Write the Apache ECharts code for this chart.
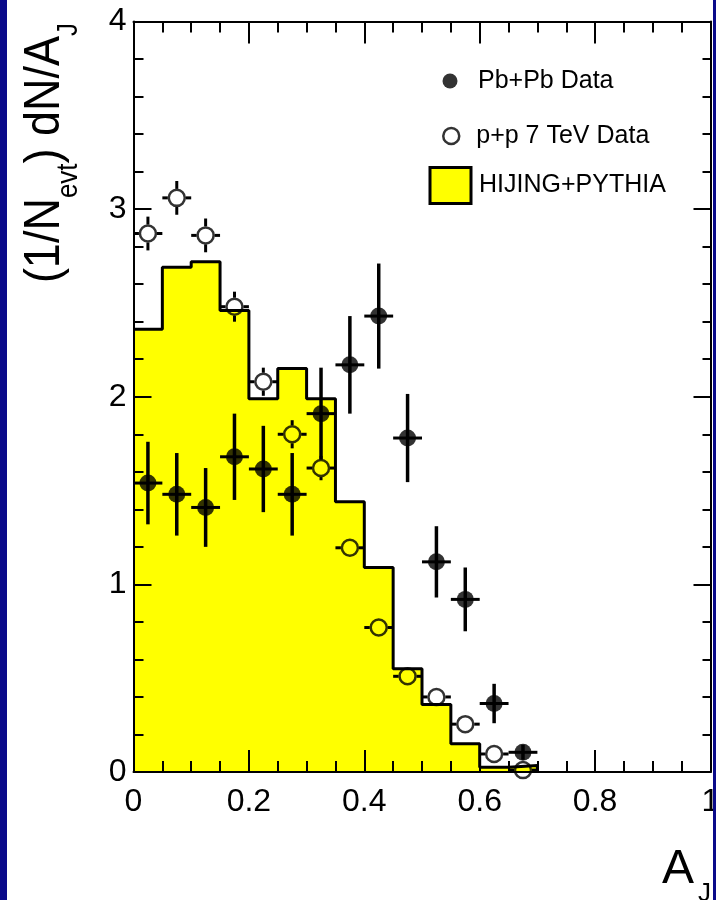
<!DOCTYPE html>
<html>
<head>
<meta charset="utf-8">
<script src="https://cdn.jsdelivr.net/npm/echarts@6/dist/echarts.min.js"></script>
<style>
  html, body { margin: 0; padding: 0; background: #fff; }
  #chart { width: 716px; height: 900px; }
</style>
</head>
<body>
<div id="chart"></div>
<script>
// Dijet asymmetry A_J distributions
const binEdges = [0, 0.05, 0.1, 0.15, 0.2, 0.25, 0.3, 0.35, 0.4, 0.45, 0.5, 0.55, 0.6, 0.65, 0.7];
const binCenters = [0.025, 0.075, 0.125, 0.175, 0.225, 0.275, 0.325, 0.375, 0.425, 0.475, 0.525, 0.575, 0.625, 0.675];
const binHalfWidth = 0.025;

// HIJING+PYTHIA histogram, one value per bin
const hijingValues = [2.36, 2.69, 2.72, 2.46, 1.99, 2.15, 1.99, 1.44, 1.09, 0.55, 0.36, 0.15, 0.025, 0.035];

// Pb+Pb data with statistical errors
const pbpbValues = [1.54, 1.48, 1.41, 1.68, 1.615, 1.48, 1.91, 2.17, 2.43, 1.78, 1.12, 0.92, 0.365, 0.105];
const pbpbErrors = [0.22, 0.22, 0.21, 0.23, 0.23, 0.22, 0.245, 0.26, 0.28, 0.235, 0.19, 0.17, 0.105, 0.04];

// p+p 7 TeV data with statistical errors
const ppValues = [2.87, 3.06, 2.86, 2.48, 2.08, 1.80, 1.62, 1.195, 0.77, 0.51, 0.40, 0.255, 0.096, 0.01];
const ppErrors = [0.09, 0.09, 0.09, 0.08, 0.075, 0.075, 0.065, 0.045, 0.04, 0.035, 0.03, 0.025, 0.02, 0.01];

const xTickInterval = 0.2;
const yTickInterval = 1;

const FONT = '"Liberation Sans", Arial, Helvetica, sans-serif';

// step outline: value of each bin starts at its left edge, closed down to zero at the last edge
const hijingStep = binEdges.map((e, i) => [e, i < hijingValues.length ? hijingValues[i] : 0]);
const pbpbPoints = binCenters.map((x, i) => [x, pbpbValues[i], pbpbErrors[i]]);
const ppPoints = binCenters.map((x, i) => [x, ppValues[i], ppErrors[i]]);

function errorBarRenderer(gap, vWidth, hWidth) {
  return function (params, api) {
    const x = api.value(0), y = api.value(1), e = api.value(2);
    const c = api.coord([x, y]);
    const top = api.coord([x, y + e]);
    const bot = api.coord([x, y - e]);
    const left = api.coord([x - binHalfWidth, y]);
    const right = api.coord([x + binHalfWidth, y]);
    const seg = (x1, y1, x2, y2, w) => ({
      type: 'line',
      shape: { x1, y1, x2, y2 },
      style: { stroke: '#000', lineWidth: w, lineCap: 'butt' }
    });
    const children = [];
    if (c[1] - top[1] > gap) children.push(seg(c[0], top[1], c[0], c[1] - gap, vWidth));
    if (bot[1] - c[1] > gap) children.push(seg(c[0], c[1] + gap, c[0], bot[1], vWidth));
    children.push(seg(left[0], c[1], c[0] - gap, c[1], hWidth));
    children.push(seg(c[0] + gap, c[1], right[0], c[1], hWidth));
    return { type: 'group', children };
  };
}

const axisLineStyle = { color: '#000', width: 2 };

function xAxisDef(pos, showLabel, majorLen, minorLen) {
  return {
    type: 'value', position: pos, min: 0, max: 1, interval: xTickInterval, z: 6,
    axisLine: { show: true, onZero: false, lineStyle: axisLineStyle },
    axisTick: { show: true, inside: true, length: majorLen, lineStyle: { color: '#000', width: 2 } },
    minorTick: { show: true, splitNumber: 4, length: minorLen, lineStyle: { color: '#000', width: 2 } },
    axisLabel: { show: showLabel, fontSize: 32, color: '#000', fontFamily: FONT, margin: 14, hideOverlap: false },
    splitLine: { show: false }, minorSplitLine: { show: false }
  };
}
function yAxisDef(pos, showLabel, majorLen, minorLen) {
  return {
    type: 'value', position: pos, min: 0, max: 4, interval: yTickInterval, z: 6,
    axisLine: { show: true, onZero: false, lineStyle: axisLineStyle },
    axisTick: { show: true, inside: true, length: majorLen, lineStyle: { color: '#000', width: 2 } },
    minorTick: { show: true, splitNumber: 5, length: minorLen, lineStyle: { color: '#000', width: 2 } },
    axisLabel: { show: showLabel, fontSize: 32, color: '#000', fontFamily: FONT, margin: 7 },
    splitLine: { show: false }, minorSplitLine: { show: false }
  };
}

function legendDef(name, left, top, w, h, icon, itemStyle, padLeft) {
  return {
    data: [{ name, icon }],
    left, top, padding: 0, orient: 'vertical', selectedMode: false,
    itemWidth: w, itemHeight: h,
    itemStyle,
    textStyle: { fontSize: 25, color: '#000', fontFamily: FONT, padding: [0, 0, 0, padLeft] }
  };
}

const chart = echarts.init(document.getElementById('chart'), null, { renderer: 'canvas' });

chart.setOption({
  backgroundColor: '#fff',
  animation: false,
  grid: { left: 133.5, right: 5.5, top: 21.5, bottom: 128, containLabel: false, outerBoundsMode: 'none' },
  xAxis: [xAxisDef('bottom', true, 22, 11), xAxisDef('top', false, 22, 11)],
  yAxis: [yAxisDef('left', true, 18, 10), yAxisDef('right', false, 17, 8)],
  legend: [
    legendDef('Pb+Pb Data', 442.5, 68.5, 15, 15, 'circle', { color: '#000', borderWidth: 0 }, 15.5),
    legendDef('p+p 7 TeV Data', 442, 123.5, 16, 16, 'circle', { color: '#fff', borderColor: '#000', borderWidth: 2.5 }, 12),
    legendDef('HIJING+PYTHIA', 428.5, 166, 41, 36, 'rect', { color: '#ffff00', borderColor: '#000', borderWidth: 3 }, 3)
  ],
  series: [
    {
      name: 'HIJING+PYTHIA', type: 'line', step: 'end', data: hijingStep,
      symbol: 'none', z: 2,
      lineStyle: { color: '#000', width: 3 },
      itemStyle: { color: '#ffff00' },
      areaStyle: { color: '#ffff00', opacity: 1 }
    },
    {
      name: 'p+p errors', type: 'custom', data: ppPoints, z: 3,
      renderItem: errorBarRenderer(9, 3, 3)
    },
    {
      name: 'p+p 7 TeV Data', type: 'scatter', data: ppPoints, z: 3,
      symbol: 'circle', symbolSize: 16,
      itemStyle: { color: 'rgba(0,0,0,0)', borderColor: '#000', borderWidth: 2.5 }
    },
    {
      name: 'Pb+Pb errors', type: 'custom', data: pbpbPoints, z: 4,
      renderItem: errorBarRenderer(0, 3.5, 3)
    },
    {
      name: 'Pb+Pb Data', type: 'scatter', data: pbpbPoints, z: 4,
      symbol: 'circle', symbolSize: 17,
      itemStyle: { color: '#000' }
    }
  ],
  graphic: [
    {
      type: 'text', x: 45, y: 153, rotation: Math.PI / 2, scaleY: 1.1, z: 50,
      style: {
        text: '{m|(1/N}{s|evt}{m|) dN/A}{s|J}',
        align: 'center', verticalAlign: 'middle', fill: '#000',
        rich: {
          m: { fontSize: 45, fontFamily: FONT, lineHeight: 70, fill: '#000' },
          s: { fontSize: 26, fontFamily: FONT, lineHeight: 20, verticalAlign: 'bottom', fill: '#000' }
        }
      }
    },
    {
      type: 'text', x: 711, y: 870, z: 50,
      style: {
        text: '{m|A}{s|J}',
        align: 'right', verticalAlign: 'middle', fill: '#000',
        rich: {
          m: { fontSize: 48, fontFamily: FONT, lineHeight: 74, fill: '#000' },
          s: { fontSize: 26, fontFamily: FONT, lineHeight: 10, verticalAlign: 'bottom', padding: [0, 0, 0, 4], fill: '#000' }
        }
      }
    },
    { type: 'rect', shape: { x: 0, y: 0, width: 7, height: 900 }, style: { fill: '#0a0a8a' }, z: 100 },
    { type: 'rect', shape: { x: 713, y: 0, width: 3, height: 900 }, style: { fill: '#0a0a8a' }, z: 100 }
  ]
});
</script>
</body>
</html>
